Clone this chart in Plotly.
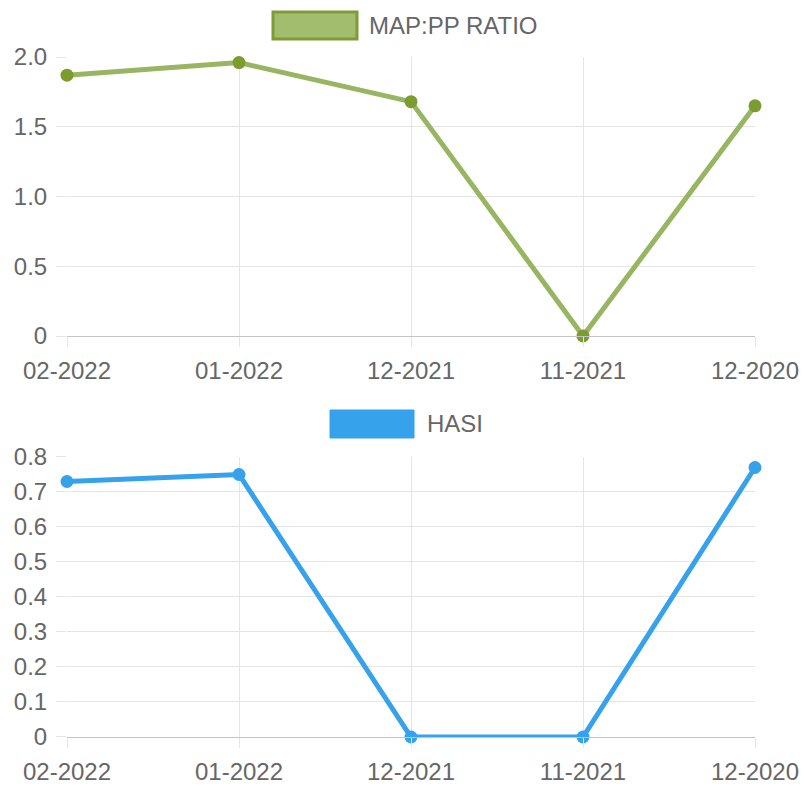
import plotly.graph_objects as go
from plotly.subplots import make_subplots

categories = ["02-2022", "01-2022", "12-2021", "11-2021", "12-2020"]
map_pp_ratio = [1.87, 1.96, 1.68, 0.0, 1.65]
hasi = [0.73, 0.75, 0.0, 0.0, 0.77]

top_tickvals = [0, 0.5, 1.0, 1.5, 2.0]
top_ticktext = ["0", "0.5", "1.0", "1.5", "2.0"]
bot_tickvals = [0, 0.1, 0.2, 0.3, 0.4, 0.5, 0.6, 0.7, 0.8]
bot_ticktext = ["0", "0.1", "0.2", "0.3", "0.4", "0.5", "0.6", "0.7", "0.8"]

GREEN_LINE = "#98b561"
GREEN_MARK = "#7d9c30"
BLUE = "#36a2eb"
GRID = "#e5e5e5"
ZERO = "#c4c4c4"
FONT = dict(family="Liberation Sans, Arial, sans-serif", size=24, color="#666666")

fig = make_subplots(rows=2, cols=1, vertical_spacing=0.0)

fig.add_trace(go.Scatter(
    x=categories, y=map_pp_ratio, mode="lines+markers", name="MAP:PP RATIO",
    line=dict(color=GREEN_LINE, width=5),
    marker=dict(color=GREEN_MARK, size=13),
    cliponaxis=False, showlegend=False), row=1, col=1)

fig.add_trace(go.Scatter(
    x=categories, y=hasi, mode="lines+markers", name="HASI",
    line=dict(color=BLUE, width=5),
    marker=dict(color=BLUE, size=13),
    cliponaxis=False, showlegend=False), row=2, col=1)

axis_common = dict(
    showgrid=True, gridcolor=GRID, gridwidth=1,
    ticks="outside", ticklen=10, tickcolor=GRID, tickwidth=1,
    tickfont=FONT, zeroline=False, automargin=False,
)

fig.update_xaxes(type="category", range=[0, 4], showline=True, linecolor=ZERO,
                 linewidth=1, ticklabelstandoff=3, **axis_common)
fig.update_yaxes(showline=False, ticklabelstandoff=4, **axis_common)

fig.update_yaxes(range=[0, 2.0], tickvals=top_tickvals, ticktext=top_ticktext,
                 domain=[0.5897, 1.0], row=1, col=1)
fig.update_yaxes(range=[0, 0.8], tickvals=bot_tickvals, ticktext=bot_ticktext,
                 domain=[0.0, 0.4118], row=2, col=1)

# custom Chart.js-style legends
fig.add_shape(type="rect", xref="paper", yref="paper",
              x0=0.2994, x1=0.4215, y0=1.0265, y1=1.0662,
              fillcolor="#a3bd6e", line=dict(color="#7e9c36", width=3))
fig.add_annotation(xref="paper", yref="paper", x=0.436, y=1.0456,
                   text="MAP:PP RATIO", showarrow=False, xanchor="left",
                   yanchor="middle", font=FONT)
fig.add_shape(type="rect", xref="paper", yref="paper",
              x0=0.3823, x1=0.5044, y0=0.4397, y1=0.4809,
              fillcolor=BLUE, line=dict(color=BLUE, width=1))
fig.add_annotation(xref="paper", yref="paper", x=0.5203, y=0.4603,
                   text="HASI", showarrow=False, xanchor="left",
                   yanchor="middle", font=FONT)

fig.update_layout(
    width=804, height=788,
    margin=dict(l=67, r=49, t=57, b=51),
    paper_bgcolor="white", plot_bgcolor="white",
    font=FONT, showlegend=False, hovermode=False,
)

fig.write_html(
    "out.html",
    config={"displayModeBar": False, "staticPlot": True},
    post_script=(
        "document.body.style.margin='0px';"
        "document.body.style.overflow='hidden';"
        "document.documentElement.style.overflow='hidden';"
    ),
)
